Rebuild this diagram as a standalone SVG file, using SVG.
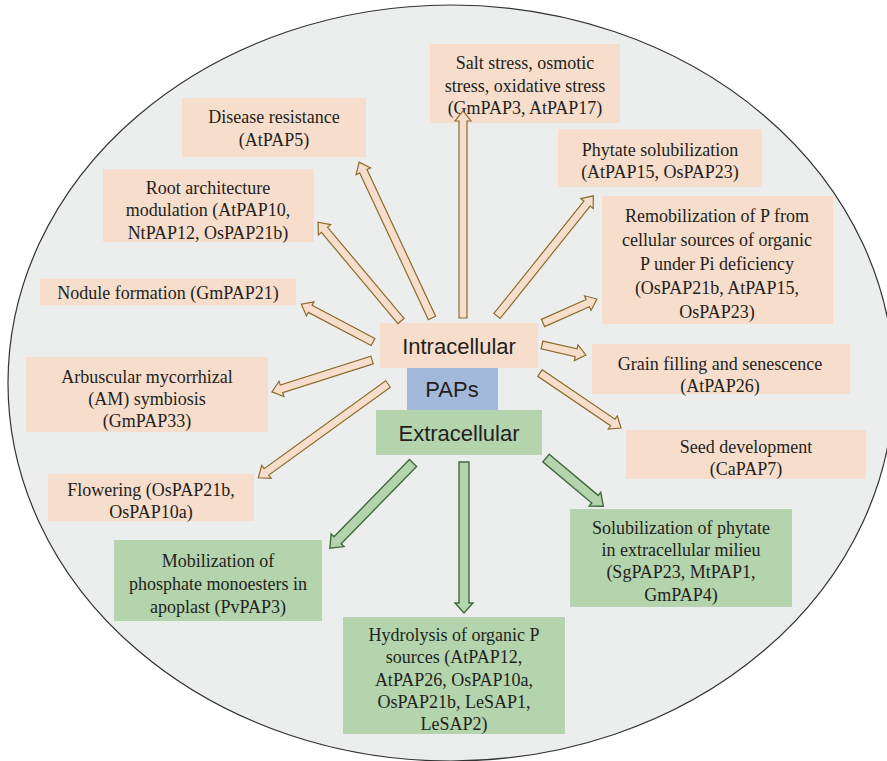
<svg xmlns="http://www.w3.org/2000/svg" width="887" height="761" viewBox="0 0 887 761">
<style>
.peach{fill:#F7DDCB}
.green{fill:#B3D4AC}
.blue{fill:#A3B9DB}
.t{font-family:"Liberation Serif","Times New Roman",serif;font-size:18px;fill:#231F20;text-anchor:middle}
.s{font-family:"Liberation Sans",Arial,sans-serif;font-size:22px;fill:#231F20;text-anchor:middle}
.pa{fill:#F7DDCB;stroke:#8C6B2A;stroke-width:1.2;stroke-linejoin:miter}
.ga{fill:#B3D4AC;stroke:#3F6B3C;stroke-width:1.4;stroke-linejoin:miter}
</style>
<rect width="887" height="761" fill="#FFFFFF"/>
<ellipse cx="451" cy="383" rx="443" ry="378" fill="#ECEEEE" stroke="#333333" stroke-width="1.2"/>

<g id="intracellular"><rect class="peach" x="380" y="323" width="158" height="45"/><text class="s" x="459" y="354">Intracellular</text></g>
<g id="paps"><rect class="blue" x="407" y="368" width="91" height="42"/><text class="s" x="452" y="397">PAPs</text></g>
<g id="extracellular"><rect class="green" x="376" y="410" width="166" height="45"/><text class="s" x="459" y="441">Extracellular</text></g>

<g id="salt"><rect class="peach" x="430" y="44" width="190" height="79"/>
<text class="t" x="525" y="69">Salt stress, osmotic</text>
<text class="t" x="525" y="91.5">stress, oxidative stress</text>
<text class="t" x="525" y="114">(GmPAP3, AtPAP17)</text></g>

<g id="disease"><rect class="peach" x="182" y="98" width="184" height="59"/>
<text class="t" x="274" y="123">Disease resistance</text>
<text class="t" x="274" y="146">(AtPAP5)</text></g>

<g id="phytate"><rect class="peach" x="558" y="129" width="204" height="58"/>
<text class="t" x="660" y="156">Phytate solubilization</text>
<text class="t" x="660" y="178">(AtPAP15, OsPAP23)</text></g>

<g id="root"><rect class="peach" x="103" y="169" width="211" height="73"/>
<text class="t" x="208" y="194">Root architecture</text>
<text class="t" x="208" y="216">modulation (AtPAP10,</text>
<text class="t" x="208" y="239">NtPAP12, OsPAP21b)</text></g>

<g id="remob"><rect class="peach" x="602" y="196" width="231" height="128"/>
<text class="t" x="717" y="222">Remobilization of P from</text>
<text class="t" x="717" y="246">cellular sources of organic</text>
<text class="t" x="717" y="270">P under Pi deficiency</text>
<text class="t" x="717" y="294">(OsPAP21b, AtPAP15,</text>
<text class="t" x="717" y="318">OsPAP23)</text></g>

<g id="nodule"><rect class="peach" x="40" y="279" width="256" height="26"/>
<text class="t" x="168" y="299">Nodule formation (GmPAP21)</text></g>

<g id="grain"><rect class="peach" x="592" y="344" width="258" height="50"/>
<text class="t" x="720" y="370">Grain filling and senescence</text>
<text class="t" x="720" y="392">(AtPAP26)</text></g>

<g id="arbuscular"><rect class="peach" x="26" y="357" width="242" height="75"/>
<text class="t" x="147" y="383">Arbuscular mycorrhizal</text>
<text class="t" x="147" y="405">(AM) symbiosis</text>
<text class="t" x="147" y="427">(GmPAP33)</text></g>

<g id="seed"><rect class="peach" x="626" y="430" width="240" height="49"/>
<text class="t" x="746" y="453">Seed development</text>
<text class="t" x="746" y="475">(CaPAP7)</text></g>

<g id="flowering"><rect class="peach" x="48" y="474" width="206" height="47"/>
<text class="t" x="151" y="496">Flowering (OsPAP21b,</text>
<text class="t" x="151" y="518">OsPAP10a)</text></g>

<g id="solubilization"><rect class="green" x="570" y="509" width="222" height="98"/>
<text class="t" x="681" y="534">Solubilization of phytate</text>
<text class="t" x="681" y="556">in extracellular milieu</text>
<text class="t" x="681" y="578">(SgPAP23, MtPAP1,</text>
<text class="t" x="681" y="601">GmPAP4)</text></g>

<g id="mobilization"><rect class="green" x="114" y="540" width="208" height="81"/>
<text class="t" x="218" y="567">Mobilization of</text>
<text class="t" x="218" y="590">phosphate monoesters in</text>
<text class="t" x="218" y="613">apoplast (PvPAP3)</text></g>

<g id="hydrolysis"><rect class="green" x="343" y="617" width="222" height="117"/>
<text class="t" x="454" y="641">Hydrolysis of organic P</text>
<text class="t" x="454" y="663">sources (AtPAP12,</text>
<text class="t" x="454" y="686">AtPAP26, OsPAP10a,</text>
<text class="t" x="454" y="708">OsPAP21b, LeSAP1,</text>
<text class="t" x="454" y="730">LeSAP2)</text></g>

<g id="connectors">
<path class="pa" transform="translate(463,318) rotate(-90)" d="M0,-4 L197,-4 L197,-8 L207,0 L197,8 L197,4 L0,4 Z"/>
<path class="pa" transform="translate(432,318) rotate(-115.07)" d="M0,-4 L162,-4 L162,-8 L172,0 L162,8 L162,4 L0,4 Z"/>
<path class="pa" transform="translate(401,321) rotate(-130)" d="M0,-4 L119,-4 L119,-8 L129,0 L119,8 L119,4 L0,4 Z"/>
<path class="pa" transform="translate(373,342) rotate(-152.2)" d="M0,-4 L71,-4 L71,-8 L81,0 L71,8 L71,4 L0,4 Z"/>
<path class="pa" transform="translate(372,360) rotate(162.3)" d="M0,-4 L95,-4 L95,-8 L105,0 L95,8 L95,4 L0,4 Z"/>
<path class="pa" transform="translate(388,384) rotate(144.13)" d="M0,-4 L150,-4 L150,-8 L160,0 L150,8 L150,4 L0,4 Z"/>
<path class="pa" transform="translate(497,316) rotate(-51.3)" d="M0,-4 L144,-4 L144,-8 L154,0 L144,8 L144,4 L0,4 Z"/>
<path class="pa" transform="translate(543,323) rotate(-23.96)" d="M0,-4 L49,-4 L49,-8 L59,0 L49,8 L49,4 L0,4 Z"/>
<path class="pa" transform="translate(542,345) rotate(12.8)" d="M0,-4 L35,-4 L35,-8 L45,0 L35,8 L35,4 L0,4 Z"/>
<path class="pa" transform="translate(540,373) rotate(34.2)" d="M0,-4 L88,-4 L88,-8 L98,0 L88,8 L88,4 L0,4 Z"/>
<path class="ga" transform="translate(546,458) rotate(40.1)" d="M0,-5 L64,-5 L64,-9 L75,0 L64,9 L64,5 L0,5 Z"/>
<path class="ga" transform="translate(413,463) rotate(134.3)" d="M0,-5 L108,-5 L108,-9 L119,0 L108,9 L108,5 L0,5 Z"/>
<path class="ga" transform="translate(464,462) rotate(90)" d="M0,-5 L141,-5 L141,-9 L151,0 L141,9 L141,5 L0,5 Z"/>
</g>
</svg>
